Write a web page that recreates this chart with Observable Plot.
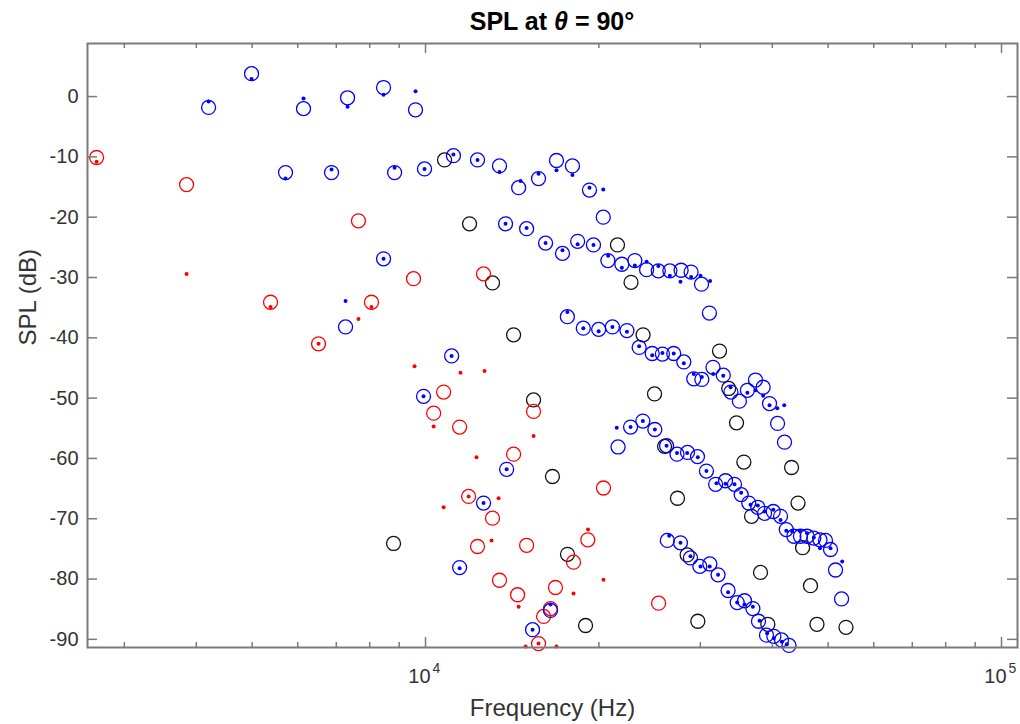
<!DOCTYPE html>
<html><head><meta charset="utf-8">
<script src="https://cdn.jsdelivr.net/npm/d3@7"></script>
<script src="https://cdn.jsdelivr.net/npm/@observablehq/plot@0.6"></script>
<style>body{margin:0;background:#fff;}</style>
</head><body><div id="chart"></div>
<script>
// [frequency Hz, SPL dB]
const blackCircles = [
[10790,-10.5],[11925,-21.1],[13070,-30.9],[14220,-39.5],[15400,-50.3],[16610,-63.0],[8800,-74.1],[17640,-75.9],[18960,-87.7],
[21540,-24.6],[22740,-30.8],[23860,-39.5],[24980,-49.3],[26000,-58.0],[27380,-66.6],[28460,-76.0],[29700,-87.0],
[32390,-42.2],[33600,-48.4],[34670,-54.1],[35700,-60.6],[36810,-69.6],[38160,-78.9],[39290,-87.5],
[43200,-61.5],[44330,-67.4],[45150,-74.8],[46600,-81.1],[47820,-87.5],[53700,-88.0]
];
const redCircles = [
[2685,-10.1],[3847,-14.6],[5382,-34.1],[6520,-41.0],[7648,-20.6],[8057,-34.1],[9532,-30.2],[12610,-29.4],[10750,-49.0],[10330,-52.5],
[11460,-54.8],[11880,-66.3],[13070,-69.9],[12310,-74.6],[14220,-59.3],[13440,-80.2],[14450,-82.6],[14980,-74.4],[15400,-52.2],[16810,-81.4],
[16480,-84.9],[16030,-86.2],[15710,-90.7],[18070,-77.2],[19130,-73.5],[20370,-64.9],[25390,-84.0]
];
const redDots = [
[2685,-10.8],[3847,-29.4],[5382,-34.9],[6520,-41.0],[7648,-36.9],[8057,-34.9],[9570,-44.7],[11500,-45.8],[12660,-45.5],[10330,-54.7],
[10750,-68.1],[12260,-59.8],[11880,-66.3],[13390,-66.6],[13020,-73.6],[14510,-84.6],[15400,-56.3],[19150,-71.8],[18070,-82.4],[20370,-80.1],
[15710,-90.7],[14920,-91.2],[16880,-91.2]
];
const blueCircles = [
[4201,-1.8],[4988,3.8],[6140,-2.0],[7322,-0.2],[8455,1.5],[9608,-2.2],
[5714,-12.6],[6868,-12.6],[8837,-12.6],[9960,-12.0],[11180,-9.8],[12310,-10.5],[13440,-11.5],[14510,-15.1],[15710,-13.6],[16880,-10.6],[17990,-11.5],[19260,-15.5],[20350,-20.0],
[8455,-26.9],[7263,-38.2],[13770,-21.1],[14980,-21.9],[16160,-24.3],[17290,-26.0],[18370,-24.0],[19570,-24.6],[20730,-27.2],[21920,-27.8],[23090,-27.2],[24200,-28.7],[25360,-28.9],[26560,-28.9],[27780,-28.8],[28910,-29.1],[30140,-31.1],[31110,-35.9],
[11100,-43.0],[9920,-49.7],[13830,-61.8],[12610,-67.4],[11460,-78.1],[15340,-88.4],[16480,-85.2],
[17630,-36.5],[18790,-38.4],[19980,-38.6],[21110,-38.2],[22370,-38.8],[23490,-41.6],[24750,-42.6],[25780,-42.7],[26970,-42.6],[28080,-44.0],[29220,-46.8],[30180,-46.9],[31560,-44.9],[32880,-46.2],[33900,-49.0],[35070,-50.5],[36210,-48.7],[37400,-47.0],[38560,-48.2],[39560,-50.9],[40850,-54.2],[42000,-57.3],
[21590,-58.1],[22700,-54.8],[23840,-53.8],[25010,-55.2],[26210,-57.9],[27330,-59.3],[28500,-59.0],[29660,-59.7],[30740,-62.1],[31890,-64.3],[33180,-63.7],[34390,-64.3],[35320,-66.0],[36410,-67.4],[37750,-68.1],[38780,-69.1],[40150,-68.8],[41340,-69.6],[42300,-71.8],[43600,-72.9],[44770,-72.9],[45970,-72.9],[47220,-73.2],[48400,-73.5],[49480,-73.6],[50480,-75.1],[51500,-78.5],[52760,-83.3],
[26290,-73.6],[27710,-74.0],[28840,-76.5],[29940,-77.9],[31160,-77.5],[32200,-79.3],[33520,-81.9],[34760,-83.9],[35800,-83.6],[37010,-84.9],[37850,-87.0],[39080,-89.3],[40250,-89.5],[41500,-90.1],[42760,-91.0]
];
const blueDots = [
[4201,-0.8],[4988,2.9],[6140,-0.3],[7322,-1.7],[8455,0.3],[9608,0.9],
[5714,-13.6],[6868,-12.1],[8837,-11.8],[9960,-12.0],[11180,-9.6],[12310,-10.5],[13440,-12.5],[14620,-14.0],[15710,-12.8],[16880,-12.2],[17990,-13.0],[19260,-15.1],[20350,-15.4],
[8455,-26.9],[7263,-33.9],[13770,-21.1],[14980,-21.8],[16160,-24.3],[17290,-25.5],[18370,-24.5],[19570,-24.6],[20750,-26.4],[21920,-28.4],[23090,-28.0],[24200,-27.4],[25360,-28.1],[26560,-29.7],[27710,-30.7],[28910,-29.9],[30020,-29.7],[31190,-30.6],
[11100,-43.0],[9920,-49.7],[13830,-61.8],[12610,-67.4],[11460,-78.2],[15340,-88.4],[16480,-84.2],
[17630,-35.7],[18790,-38.4],[19980,-38.9],[21110,-38.2],[22370,-39.0],[23490,-41.4],[24750,-42.9],[25780,-42.5],[26970,-42.6],[28080,-44.2],[29220,-46.0],[30180,-46.5],[31590,-46.0],[32880,-46.3],[33850,-48.2],[36210,-49.1],[37400,-48.7],[38560,-49.6],[39560,-51.2],[40800,-51.7],[41950,-51.2],
[21480,-54.9],[22700,-54.8],[23840,-53.8],[25010,-55.2],[26210,-57.9],[27330,-59.1],[28460,-59.1],[29700,-59.8],[30740,-62.1],[32000,-64.1],[33180,-64.2],[34390,-64.3],[35320,-65.7],[36670,-67.7],[37750,-67.8],[38780,-68.8],[40150,-68.5],[41340,-70.2],[42300,-72.0],[43310,-72.1],[44660,-72.0],[45970,-72.4],[47220,-73.1],[48400,-74.9],[50480,-74.9],[52900,-77.1],
[26480,-72.8],[27710,-74.0],[28840,-76.2],[30020,-77.9],[31150,-77.9],[32200,-79.3],[33520,-82.2],[34760,-83.9],[35800,-84.2],[37010,-84.6],[38010,-86.9],[39180,-89.0],[40250,-89.8],[41560,-90.4],[42400,-90.8]
];
const yTicks = [-90,-80,-70,-60,-50,-40,-30,-20,-10,0];
const xMajorTicks = [10000, 100000];
const xMinorTicks = [3000,4000,5000,6000,7000,8000,9000,20000,30000,40000,50000,60000,70000,80000,90000];
const xDomain = [2589, 106600];
const yDomain = [-91.35, 8.8];
const titleText = ["SPL at ", "θ", " = 90°"];
const xLabel = "Frequency (Hz)";
const yLabel = "SPL (dB)";

const W = 1020, H = 724, mL = 87, mR = 3, mT = 43, mB = 77;
const pw = W - mL - mR, ph = H - mT - mB;
const axisGray = "#7a7a7a", textGray = "#333";
const fx = d => d[0], fy = d => d[1];

const chart = Plot.plot({
  width: W, height: H,
  marginLeft: mL, marginRight: mR, marginTop: mT, marginBottom: mB,
  x: {type: "log", domain: xDomain, axis: null},
  y: {domain: yDomain, axis: null},
  style: {fontFamily: "'Liberation Sans', Arial, sans-serif", background: "white"},
  marks: [
    Plot.dot(blackCircles, {x: fx, y: fy, r: 7, stroke: "#111", strokeWidth: 1.3, fill: "none"}),
    Plot.dot(redCircles, {x: fx, y: fy, r: 7, stroke: "#ff0000", strokeWidth: 1.3, fill: "none"}),
    Plot.dot(blueCircles, {x: fx, y: fy, r: 7, stroke: "#0000ff", strokeWidth: 1.3, fill: "none"}),
    Plot.dot(redDots, {x: fx, y: fy, r: 2, fill: "#ff0000"}),
    Plot.dot(blueDots, {x: fx, y: fy, r: 2, fill: "#0000ff"}),
    // ticks (inward, on all four sides)
    Plot.ruleY(yTicks, {y: d => d, insetRight: pw - 10, stroke: axisGray, strokeWidth: 1.5}),
    Plot.ruleY(yTicks, {y: d => d, insetLeft: pw - 10, stroke: axisGray, strokeWidth: 1.5}),
    Plot.ruleX(xMajorTicks, {x: d => d, insetTop: ph - 10, stroke: axisGray, strokeWidth: 1.5}),
    Plot.ruleX(xMajorTicks, {x: d => d, insetBottom: ph - 10, stroke: axisGray, strokeWidth: 1.5}),
    Plot.ruleX(xMinorTicks, {x: d => d, insetTop: ph - 5, stroke: axisGray, strokeWidth: 1.5}),
    Plot.ruleX(xMinorTicks, {x: d => d, insetBottom: ph - 5, stroke: axisGray, strokeWidth: 1.5}),
    Plot.frame({stroke: axisGray, strokeWidth: 2}),
    // tick labels
    Plot.text(yTicks, {y: d => d, text: d => String(d), frameAnchor: "left", dx: -9, textAnchor: "end", fontSize: 20, fill: textGray}),
    Plot.text(xMajorTicks, {x: d => d, text: () => "10", frameAnchor: "bottom", dy: 35, dx: 5, textAnchor: "end", lineAnchor: "bottom", fontSize: 20, fill: textGray}),
    Plot.text(xMajorTicks, {x: d => d, text: d => String(Math.round(Math.log10(d))), frameAnchor: "bottom", dy: 25, dx: 7, textAnchor: "start", lineAnchor: "bottom", fontSize: 14, fill: textGray}),
    // axis labels
    Plot.text([xLabel], {text: d => d, frameAnchor: "bottom", dy: 68, lineAnchor: "bottom", fontSize: 24, fill: textGray}),
    Plot.text([yLabel], {text: d => d, frameAnchor: "left", dx: -52, rotate: -90, lineAnchor: "bottom", fontSize: 24, fill: textGray})
  ]
});

// title with italic theta
const t = d3.select(chart).append("text")
  .attr("x", mL + pw / 2).attr("y", 30)
  .attr("text-anchor", "middle")
  .attr("font-weight", "bold").attr("font-size", 25)
  .attr("fill", "#000");
titleText.forEach((s, i) => {
  t.append("tspan").attr("font-style", i === 1 ? "italic" : null).text(s);
});

document.getElementById("chart").appendChild(chart);
</script>
</body></html>
